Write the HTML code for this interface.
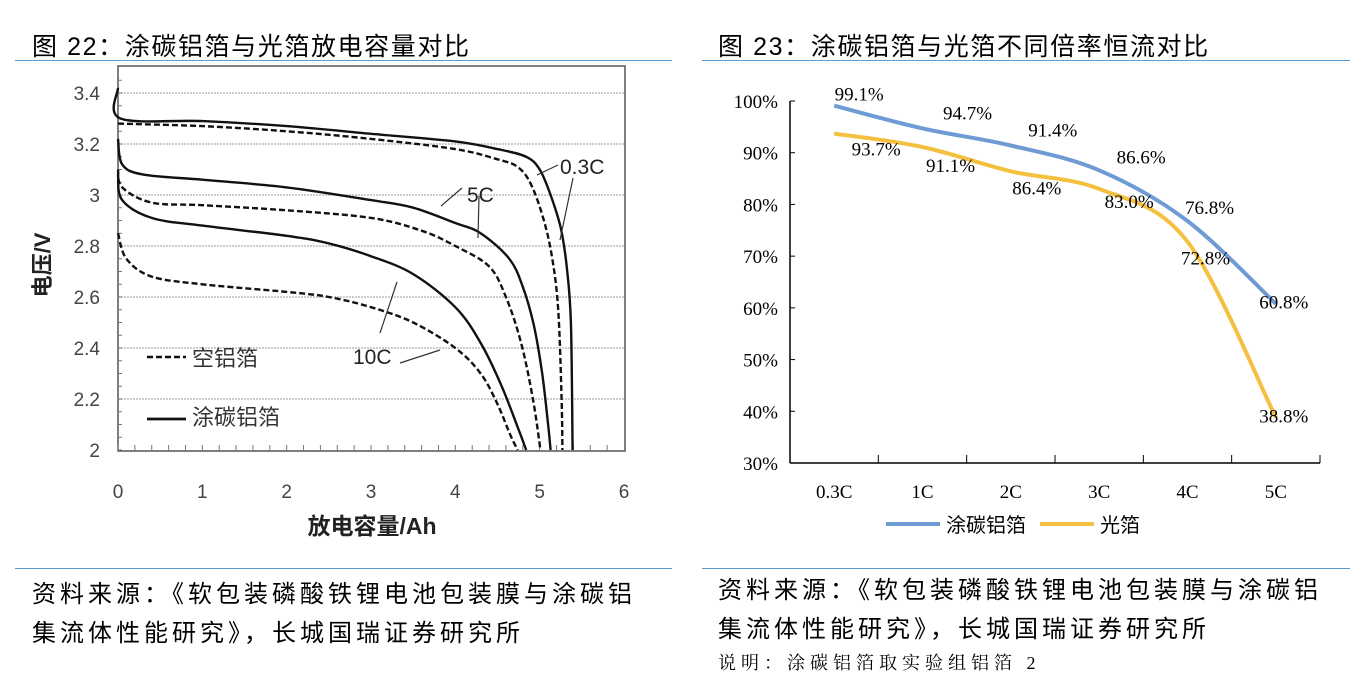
<!DOCTYPE html>
<html><head><meta charset="utf-8">
<style>
body{margin:0;background:#fff;width:1366px;height:690px;overflow:hidden;position:relative;font-family:"Liberation Sans","Noto Sans CJK SC",sans-serif;}
.t{position:absolute;white-space:nowrap;color:#000;}
.hl{position:absolute;height:1px;background:#5b9bd5;}
</style></head><body>
<div class="t" style="left:32px;top:27px;font-size:25px;letter-spacing:1.6px;">图 22：涂碳铝箔与光箔放电容量对比</div>
<div class="t" style="left:718px;top:27px;font-size:25px;letter-spacing:1.6px;">图 23：涂碳铝箔与光箔不同倍率恒流对比</div>
<div class="hl" style="left:15px;width:657px;top:60px;"></div>
<div class="hl" style="left:702px;width:648px;top:60px;"></div>
<div class="hl" style="left:15px;width:657px;top:568px;"></div>
<div class="hl" style="left:702px;width:648px;top:568px;"></div>
<div class="t" style="left:32px;top:575px;font-size:24px;letter-spacing:4px;line-height:39px;">资料来源：《软包装磷酸铁锂电池包装膜与涂碳铝<br>集流体性能研究》，长城国瑞证券研究所</div>
<div class="t" style="left:718px;top:571px;font-size:24px;letter-spacing:4px;line-height:39px;">资料来源：《软包装磷酸铁锂电池包装膜与涂碳铝<br>集流体性能研究》，长城国瑞证券研究所</div>
<div class="t" style="left:718px;top:649px;font-size:18px;letter-spacing:5px;font-family:'Liberation Serif','Noto Serif CJK SC',serif;">说明：涂碳铝箔取实验组铝箔 2</div>

<svg id="lc" width="690" height="570" style="position:absolute;left:0;top:0"></svg>
<svg id="rc" width="680" height="570" style="position:absolute;left:686px;top:0"></svg>

<script>
// ---------- Left chart data ----------
const solid03 = [[0,3.42],[0.03,3.30],[1,3.29],[2,3.27],[3,3.24],[4,3.21],[4.5,3.18],[4.84,3.15],[5.0,3.10],[5.13,3.0],[5.25,2.87],[5.32,2.72],[5.37,2.5],[5.39,2.0]];
const dash03 = [[0,3.28],[1,3.27],[2,3.25],[3,3.22],[4,3.18],[4.5,3.14],[4.74,3.11],[4.9,3.04],[5.05,2.9],[5.15,2.75],[5.22,2.55],[5.26,2.2],[5.27,2.0]];
const solid5 = [[0,3.22],[0.05,3.12],[0.3,3.08],[1,3.06],[2,3.03],[3,2.98],[3.5,2.95],[4,2.89],[4.3,2.85],[4.64,2.75],[4.8,2.64],[4.93,2.49],[5.03,2.3],[5.1,2.1],[5.13,2.0]];
const dash5 = [[0,3.1],[0.05,3.03],[0.4,2.97],[1,2.96],[2,2.94],[3,2.91],[3.6,2.86],[4,2.80],[4.4,2.72],[4.6,2.6],[4.78,2.42],[4.92,2.2],[5.01,2.0]];
const solid10 = [[0,3.08],[0.05,2.98],[0.4,2.91],[1,2.88],[2,2.84],[2.5,2.81],[3,2.76],[3.5,2.69],[4,2.56],[4.3,2.42],[4.55,2.25],[4.75,2.08],[4.84,2.0]];
const dash10 = [[0,2.85],[0.1,2.75],[0.4,2.68],[1,2.65],[2,2.62],[2.5,2.60],[3,2.56],[3.5,2.50],[4,2.40],[4.3,2.30],[4.5,2.18],[4.65,2.06],[4.74,2.0]];
const xTicksL = [0,1,2,3,4,5,6];
const yTicksL = [2,2.2,2.4,2.6,2.8,3,3.2,3.4];

// ---------- Right chart data ----------
const categories = ["0.3C","1C","2C","3C","4C","5C"];
const coated = [99.1,94.7,91.4,86.6,76.8,60.8];
const plain = [93.7,91.1,86.4,83.0,72.8,38.8];
const yTicksR = [30,40,50,60,70,80,90,100];
const coatedLabelOff = [[25,-12],[45,-16],[42,-16],[42,-14],[22,-14],[8,-2]];
const plainLabelOff = [[42,15],[28,18],[26,16],[30,12],[18,16],[8,-2]];

const NS="http://www.w3.org/2000/svg";
function mk(svg,tag,attrs,text){const e=document.createElementNS(NS,tag);for(const k in attrs)e.setAttribute(k,attrs[k]);if(text!==undefined)e.textContent=text;svg.appendChild(e);return e;}
function cr(p){let d='M'+p[0][0].toFixed(1)+' '+p[0][1].toFixed(1);
 for(let i=0;i<p.length-1;i++){const a=p[i-1]||p[i],b=p[i],c=p[i+1],e=p[i+2]||c;
  const c1=[b[0]+(c[0]-a[0])/6,b[1]+(c[1]-a[1])/6],c2=[c[0]-(e[0]-b[0])/6,c[1]-(e[1]-b[1])/6];
  d+=`C${c1[0].toFixed(1)} ${c1[1].toFixed(1)} ${c2[0].toFixed(1)} ${c2[1].toFixed(1)} ${c[0].toFixed(1)} ${c[1].toFixed(1)}`;}
 return d;}

// Left
const L=document.getElementById('lc');
const lx=v=>118+v*(624-118)/6;
const ly=v=>450-(v-2)*255;
mk(L,'rect',{x:118,y:66,width:507,height:385,fill:'none',stroke:'#555','stroke-width':1.5});
const nar='Liberation Sans Narrow,Liberation Sans,sans-serif';
yTicksL.forEach(v=>{
 if(v>2){const g=mk(L,'line',{x1:118,x2:625,y1:ly(v),y2:ly(v),stroke:'#bbb','stroke-width':1.5,'stroke-dasharray':'2 1'});
 }
 const t=mk(L,'text',{x:100,y:ly(v)+7,'text-anchor':'end','font-size':19,fill:'#444','font-family':nar},String(v));
 
});
for(let v=2;v<=3.45;v+=0.05){mk(L,'line',{x1:118,x2:122,y1:ly(v),y2:ly(v),stroke:'#777'});}
for(let v=0;v<=6;v+=0.2){mk(L,'line',{x1:lx(v),x2:lx(v),y1:451,y2:445,stroke:'#777'});}
xTicksL.forEach(v=>{const t=mk(L,'text',{x:lx(v),y:498,'text-anchor':'middle','font-size':19,fill:'#444','font-family':nar},String(v));
 });
const yt=mk(L,'text',{x:50,y:265,'text-anchor':'middle','font-size':22,'font-weight':'bold',fill:'#222',transform:'rotate(-90 50 265)'},'电压/V');

const xt=mk(L,'text',{x:372,y:534,'text-anchor':'middle','font-size':23,'font-weight':'bold',fill:'#222'},'放电容量/Ah');

function lpath(d,dash,name){const p=mk(L,'path',{d:cr(d.map(q=>[lx(q[0]),ly(q[1])])),fill:'none',stroke:'#111','stroke-width':2.4,'stroke-dasharray':dash?'6 3':'none'});
 }
lpath(solid03,false,'coated-0.3c-curve');lpath(dash03,true,'bare-0.3c-curve');
lpath(solid5,false,'coated-5c-curve');lpath(dash5,true,'bare-5c-curve');
lpath(solid10,false,'coated-10c-curve');lpath(dash10,true,'bare-10c-curve');
[['0.3C',560,174],['5C',467,202],['10C',353,364]].forEach(a=>{const t=mk(L,'text',{x:a[1],y:a[2],'font-size':21,fill:'#222','font-family':nar},a[0]);
 });
[[558,165,537,175],[573,178,560,240],[462,188,441,206],[479,196,478,238],[397,282,380,333],[400,363,440,350]].forEach(s=>mk(L,'line',{x1:s[0],y1:s[1],x2:s[2],y2:s[3],stroke:'#333','stroke-width':1.2}));
mk(L,'line',{x1:147,x2:186,y1:357,y2:357,stroke:'#111','stroke-width':2.4,'stroke-dasharray':'6 3'});
mk(L,'line',{x1:147,x2:186,y1:419,y2:419,stroke:'#111','stroke-width':2.8});
const lg1=mk(L,'text',{x:192,y:366,'font-size':22,fill:'#333'},'空铝箔');
const lg2=mk(L,'text',{x:192,y:425,'font-size':22,fill:'#333'},'涂碳铝箔');

// Right (svg offset 686)
const R=document.getElementById('rc');
const O=686, x0=790-O, band=(1320-790)/6;
const rx=i=>x0+band*(i+0.5);
const ry=v=>463-(v-30)*(463-101)/70;
const serif='Liberation Serif,serif';
mk(R,'line',{x1:x0,x2:x0,y1:101,y2:463,stroke:'#000','stroke-width':1.5});
mk(R,'line',{x1:x0,x2:x0+band*6,y1:463,y2:463,stroke:'#000','stroke-width':1.5});
yTicksR.forEach(v=>{mk(R,'line',{x1:x0,x2:x0+5,y1:ry(v),y2:ry(v),stroke:'#000'});
 const t=mk(R,'text',{x:x0-12,y:ry(v)+7,'text-anchor':'end','font-size':19,'font-family':serif},v+'%');
 });
for(let i=1;i<=6;i++)mk(R,'line',{x1:x0+band*i,x2:x0+band*i,y1:463,y2:455,stroke:'#000'});
categories.forEach((c,i)=>{const t=mk(R,'text',{x:rx(i),y:498,'text-anchor':'middle','font-size':19,'font-family':serif},c);
 });
const pb=mk(R,'path',{d:cr(coated.map((v,i)=>[rx(i),ry(v)])),fill:'none',stroke:'#6f9bd4','stroke-width':4});

const py=mk(R,'path',{d:cr(plain.map((v,i)=>[rx(i),ry(v)])),fill:'none',stroke:'#f4c040','stroke-width':4});

coated.forEach((v,i)=>{const t=mk(R,'text',{x:rx(i)+coatedLabelOff[i][0],y:ry(v)+coatedLabelOff[i][1]+7,'text-anchor':'middle','font-size':19,'font-family':serif},v.toFixed(1)+'%');
 });
plain.forEach((v,i)=>{const t=mk(R,'text',{x:rx(i)+plainLabelOff[i][0],y:ry(v)+plainLabelOff[i][1]+7,'text-anchor':'middle','font-size':19,'font-family':serif},v.toFixed(1)+'%');
 });
mk(R,'line',{x1:886-O,x2:940-O,y1:524,y2:524,stroke:'#6f9bd4','stroke-width':4});
const l1=mk(R,'text',{x:946-O,y:532,'font-size':20},'涂碳铝箔');
mk(R,'line',{x1:1040-O,x2:1094-O,y1:524,y2:524,stroke:'#f4c040','stroke-width':4});
const l2=mk(R,'text',{x:1100-O,y:532,'font-size':20},'光箔');
</script>
</body></html>
